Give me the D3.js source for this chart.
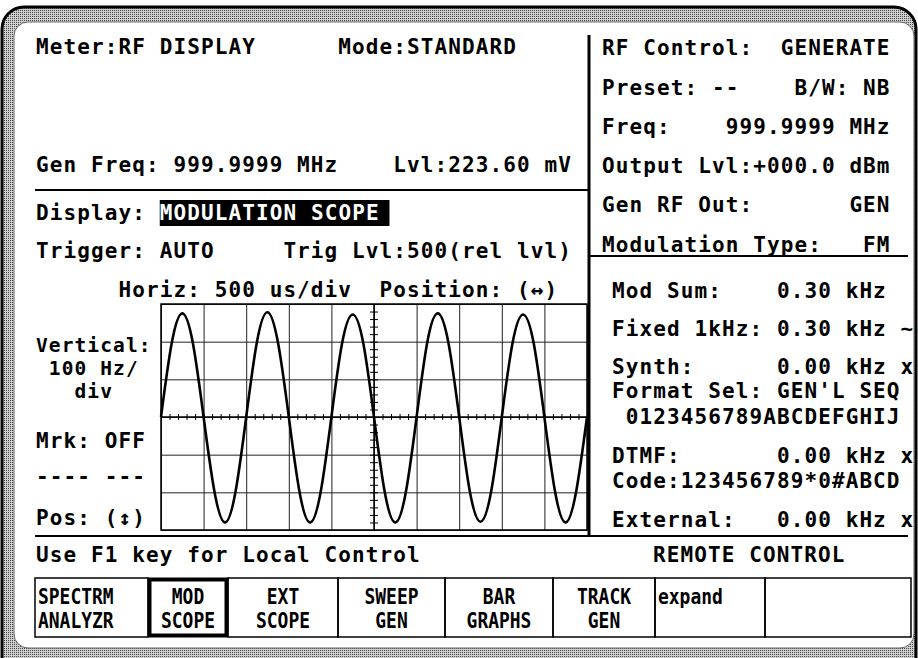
<!DOCTYPE html>
<html>
<head>
<meta charset="utf-8">
<script src="https://cdn.jsdelivr.net/npm/d3@7"></script>
<style>
  body { margin: 0; background: #fff; }
  svg text { font-family: "DejaVu Sans Mono", monospace; font-size: 21px; font-weight: bold; letter-spacing: 1.1px; fill: #000; white-space: pre; }
</style>
</head>
<body>
<div id="chart-area"></div>
<script>
// --- values ---
var traceDiv = [0, 1.95, 2.75, 1.95, 0, -1.95, -2.8, -1.98,
                0, 1.98, 2.78, 1.95, 0, -1.98, -2.8, -1.98,
                0, 1.95, 2.72, 1.95, 0, -1.98, -2.8, -1.98,
                0, 1.98, 2.75, 1.95, 0, -1.98, -2.78, -1.98,
                0, 1.95, 2.72, 1.95, 0, -1.98, -2.8, -1.95, 0];
var sampleStep = 0.25;   // horizontal divisions between samples (125 us)
var horizDivs = [0, 10];
var vertDivs = [-3, 3];

var meterLines = ["Meter:RF DISPLAY      Mode:STANDARD",
                  "Gen Freq: 999.9999 MHz    Lvl:223.60 mV"];
var displayLabel = "Display: ";
var displayMode = "MODULATION SCOPE ";
var scopeLines = ["Trigger: AUTO     Trig Lvl:500(rel lvl)",
                  "      Horiz: 500 us/div  Position: (\u2194)"];
var verticalLabel = ["Vertical:", " 100 Hz/", "   div"];
var sideLabels = ["Mrk: OFF", "---- ---", "Pos: (\u2195)"];
var rfControl = ["RF Control:  GENERATE",
                 "Preset: --    B/W: NB",
                 "Freq:    999.9999 MHz",
                 "Output Lvl:+000.0 dBm",
                 "Gen RF Out:       GEN",
                 "Modulation Type:   FM"];
var modSources = ["Mod Sum:    0.30 kHz",
                  "Fixed 1kHz: 0.30 kHz ~",
                  "Synth:      0.00 kHz x",
                  "Format Sel: GEN'L SEQ",
                  " 0123456789ABCDEFGHIJ",
                  "DTMF:       0.00 kHz x",
                  "Code:123456789*0#ABCD",
                  "External:   0.00 kHz x"];
var statusLeft = "Use F1 key for Local Control";
var statusRight = "REMOTE CONTROL";
var softkeys = [["SPECTRM", "ANALYZR"], ["MOD", "SCOPE"], ["EXT", "SCOPE"], ["SWEEP", "GEN"],
                ["BAR", "GRAPHS"], ["TRACK", "GEN"], ["expand", ""], ["", ""]];
var selectedKey = 1;

// --- canvas ---
var W = 918, H = 658;
var svg = d3.select("#chart-area").append("svg")
    .attr("width", W)
    .attr("height", H);

var defs = svg.append("defs");
var pat = defs.append("pattern")
    .attr("id", "dither")
    .attr("width", 2).attr("height", 2)
    .attr("patternUnits", "userSpaceOnUse");
pat.append("rect").attr("width", 2).attr("height", 2).attr("fill", "#cfcfcf");
pat.append("rect").attr("width", 1).attr("height", 1).attr("fill", "#444");

// bezel
svg.append("rect")
    .attr("x", 2).attr("y", 7)
    .attr("width", 914).attr("height", 720)
    .attr("rx", 22)
    .attr("fill", "url(#dither)")
    .attr("stroke", "#000")
    .attr("stroke-width", 3);

svg.append("rect")
    .attr("x", 14).attr("y", 22)
    .attr("width", 900).attr("height", 626)
    .attr("rx", 14)
    .attr("fill", "#fff")
    .attr("stroke", "#666")
    .attr("stroke-width", 1);

var pitch = 13.75;
function row(x, y, str) {
    return svg.append("text").attr("x", x).attr("y", y).text(str);
}

// --- panel rules ---
var rules = svg.append("g").attr("stroke", "#000").attr("stroke-width", 2);
rules.append("line").attr("x1", 35).attr("x2", 589).attr("y1", 190).attr("y2", 190);
rules.append("line").attr("x1", 589).attr("x2", 908).attr("y1", 256).attr("y2", 256);
rules.append("line").attr("x1", 35).attr("x2", 908).attr("y1", 536).attr("y2", 536);
rules.append("line").attr("x1", 589).attr("x2", 589).attr("y1", 35).attr("y2", 536)
    .attr("stroke-width", 3);

// --- left top texts ---
var leftX = 36;
row(leftX, 54, meterLines[0]);
row(leftX, 172, meterLines[1]);

row(leftX, 220, displayLabel);
var modeX = leftX + displayLabel.length * pitch;
svg.append("rect")
    .attr("x", modeX).attr("y", 200)
    .attr("width", displayMode.length * pitch - 4).attr("height", 26)
    .attr("fill", "#000");
row(modeX, 220, displayMode).style("fill", "#fff");

row(leftX, 258, scopeLines[0]);
row(leftX, 297, scopeLines[1]);

// vertical sensitivity label, three tight lines
var vertY = [352, 375, 398];
verticalLabel.forEach(function(s, i) {
    row(leftX, vertY[i], s).style("font-size", "19.5px");
});
var sideY = [448, 484, 525];
sideLabels.forEach(function(s, i) { row(leftX, sideY[i], s); });

// --- right panel ---
var rfY = [55, 95, 134, 173, 212, 252];
rfControl.forEach(function(s, i) { row(602, rfY[i], s); });

var modY = [298, 336, 374, 398, 424, 463, 488, 527];
modSources.forEach(function(s, i) { row(612, modY[i], s); });

// --- status line ---
row(leftX, 562, statusLeft);
row(653, 562, statusRight);

// --- scope ---
var scope = {left: 161, right: 587, top: 304, bottom: 530};
var x = d3.scaleLinear().domain(horizDivs).range([scope.left, scope.right]);
var y = d3.scaleLinear().domain(vertDivs).range([scope.bottom, scope.top]);

var grid = svg.append("g");
grid.append("g")
    .attr("transform", "translate(0," + scope.bottom + ")")
    .call(d3.axisBottom(x).ticks(10).tickSize(-(scope.bottom - scope.top)).tickFormat(""))
    .call(function(g) { g.select(".domain").remove(); })
    .selectAll("line").attr("stroke", "#222").attr("stroke-width", 1);
grid.append("g")
    .attr("transform", "translate(" + scope.left + ",0)")
    .call(d3.axisLeft(y).ticks(6).tickSize(-(scope.right - scope.left)).tickFormat(""))
    .call(function(g) { g.select(".domain").remove(); })
    .selectAll("line").attr("stroke", "#222").attr("stroke-width", 1);

// centre graticule with minor ticks
grid.append("g")
    .attr("transform", "translate(0," + (y(0) - 3) + ")")
    .call(d3.axisBottom(x).tickValues(d3.range(0, 10.001, 0.2)).tickSize(6).tickFormat(""))
    .call(function(g) { g.select(".domain").remove(); })
    .selectAll("line").attr("stroke", "#000");
grid.append("g")
    .attr("transform", "translate(" + (x(5) + 4) + ",0)")
    .call(d3.axisLeft(y).tickValues(d3.range(-3, 3.001, 0.2)).tickSize(8).tickFormat(""))
    .call(function(g) { g.select(".domain").remove(); })
    .selectAll("line").attr("stroke", "#000");
grid.append("line")
    .attr("x1", scope.left).attr("x2", scope.right)
    .attr("y1", y(0)).attr("y2", y(0))
    .attr("stroke", "#000").attr("stroke-width", 1.5);
grid.append("line")
    .attr("x1", x(5)).attr("x2", x(5))
    .attr("y1", scope.top).attr("y2", scope.bottom)
    .attr("stroke", "#000").attr("stroke-width", 1.5);
grid.append("rect")
    .attr("x", scope.left).attr("y", scope.top)
    .attr("width", scope.right - scope.left).attr("height", scope.bottom - scope.top)
    .attr("fill", "none").attr("stroke", "#000").attr("stroke-width", 1.5);

var line = d3.line()
    .x(function(d, i) { return x(i * sampleStep); })
    .y(function(d) { return y(d); })
    .curve(d3.curveNatural);
svg.append("path")
    .datum(traceDiv)
    .attr("d", line)
    .attr("fill", "none")
    .attr("stroke", "#000")
    .attr("stroke-width", 2.6);

// --- softkeys ---
var keyEdges = [35, 148, 228, 338, 445, 553, 655, 765, 911];
var keyTop = 578, keyBottom = 637;
var keys = svg.append("g");
softkeys.forEach(function(k, i) {
    var x0 = keyEdges[i], x1 = keyEdges[i + 1];
    var sel = i === selectedKey;
    keys.append("rect")
        .attr("x", x0 + (sel ? 1.5 : 0)).attr("y", keyTop + (sel ? 1.5 : 0))
        .attr("width", x1 - x0 - (sel ? 3 : 0)).attr("height", keyBottom - keyTop - (sel ? 3 : 0))
        .attr("fill", "none").attr("stroke", "#000").attr("stroke-width", sel ? 4 : 1.5);
    k.forEach(function(s, j) {
        if (!s) return;
        var t = keys.append("text")
            .attr("y", keyTop + 26 + j * 24)
            .style("letter-spacing", "0px")
            .attr("textLength", s.length * 10.8)
            .attr("lengthAdjust", "spacingAndGlyphs")
            .text(s);
        if (i === 0 || i === 6) t.attr("x", x0 + 3);
        else t.attr("x", (x0 + x1) / 2 - s.length * 5.4);
    });
});
</script>
</body>
</html>
